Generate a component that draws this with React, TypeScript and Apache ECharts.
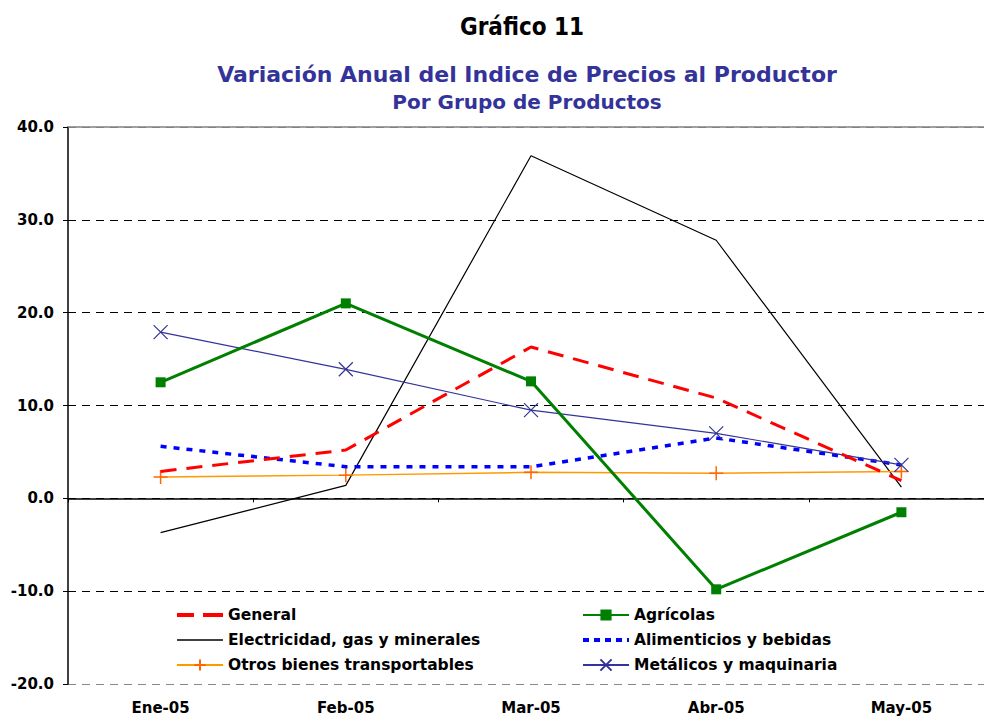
import React, { useEffect, useRef } from "react";
import * as echarts from "echarts";

const categories = ["Ene-05", "Feb-05", "Mar-05", "Abr-05", "May-05"];
const general = [2.9, 5.2, 16.3, 10.8, 1.9];
const agricolas = [12.5, 21.0, 12.6, -9.8, -1.5];
const electricidad = [-3.7, 1.4, 36.9, 27.8, 1.2];
const alimenticios = [5.6, 3.4, 3.4, 6.5, 3.6];
const otros = [2.3, 2.5, 2.8, 2.7, 2.9];
const metalicos = [17.9, 13.9, 9.5, 7.0, 3.6];
const seriesNames = [
  "General",
  "Agrícolas",
  "Electricidad, gas y minerales",
  "Alimenticios y bebidas",
  "Otros bienes transportables",
  "Metálicos y maquinaria",
];
const yMin = -20;
const yMax = 40;
const yStep = 10;

const FONT = "DejaVu Sans";
const ICON_DASH = "path://M0,0h17v4h-17zM26,0h20v4h-20z";
const ICON_SOLID = "path://M0,0h46v1.4h-46z";
const ICON_DOT = "path://M0,0h6v4h-6zM11,0h6v4h-6zM22,0h6v4h-6zM33,0h6v4h-6zM44,0h2v4h-2z";

export default function App() {
  const ref = useRef<HTMLDivElement>(null);
  useEffect(() => {
    document.body.style.margin = "0";
    const chart = echarts.init(ref.current!, null, { renderer: "svg" });
    const legendText = { fontFamily: FONT, fontWeight: "bold", fontSize: 15.5, color: "#000" };
    chart.setOption({
      animation: false,
      backgroundColor: "#fff",
      title: [
        {
          text: "Gráfico 11",
          left: 517,
          textAlign: "center",
          top: 10,
          textStyle: { fontFamily: "DejaVu Sans Condensed, DejaVu Sans", fontWeight: "bold", fontSize: 24, color: "#000" },
        },
        {
          text: "Variación Anual del Indice de Precios al Productor",
          left: 522,
          textAlign: "center",
          top: 58,
          textStyle: { fontFamily: FONT, fontWeight: "bold", fontSize: 22, color: "#333399" },
        },
        {
          text: "Por Grupo de Productos",
          left: 522,
          textAlign: "center",
          top: 87,
          textStyle: { fontFamily: FONT, fontWeight: "bold", fontSize: 20, color: "#333399" },
        },
      ],
      legend: [
        {
          data: [
            { name: seriesNames[0], icon: ICON_DASH, itemStyle: { color: "#FF0000", borderWidth: 0 } },
            { name: seriesNames[2], icon: ICON_SOLID, itemStyle: { color: "#000", borderWidth: 0 } },
            seriesNames[4],
          ],
          orient: "vertical",
          left: 176,
          top: 607,
          padding: 0,
          itemWidth: 46,
          itemHeight: 14,
          itemGap: 9,
          textStyle: legendText,
        },
        {
          data: [
            seriesNames[1],
            { name: seriesNames[3], icon: ICON_DOT, itemStyle: { color: "#0000FF", borderWidth: 0 } },
            seriesNames[5],
          ],
          orient: "vertical",
          left: 582,
          top: 607,
          padding: 0,
          itemWidth: 46,
          itemHeight: 14,
          itemGap: 9,
          textStyle: legendText,
        },
      ],
      grid: { left: 68, top: 127, right: 0, height: 557, containLabel: false },
      xAxis: [
        {
          type: "category",
          data: categories,
          boundaryGap: true,
          axisLine: { onZero: true, lineStyle: { color: "#000", width: 1.5 } },
          axisTick: { show: true, length: 4, lineStyle: { color: "#000" } },
          axisLabel: { show: false },
          splitLine: { show: false },
        },
        {
          type: "category",
          data: categories,
          position: "bottom",
          boundaryGap: true,
          axisLine: { show: false, onZero: false },
          axisTick: { show: false },
          axisLabel: { margin: 16, fontFamily: FONT, fontWeight: "bold", fontSize: 15, color: "#000" },
          splitLine: { show: false },
        },
      ],
      yAxis: {
        type: "value",
        min: yMin,
        max: yMax,
        interval: yStep,
        axisLine: { show: true, lineStyle: { color: "#000", width: 1.5 } },
        axisTick: { show: true, length: 5, lineStyle: { color: "#000" } },
        axisLabel: {
          margin: 14,
          fontFamily: FONT,
          fontWeight: "bold",
          fontSize: 15,
          color: "#000",
          formatter: (v: number) => v.toFixed(1),
        },
        splitLine: {
          show: true,
          lineStyle: {
            color: ["#888", "#000", "#000", "#000", "#000", "#000", "#888"],
            type: [8, 6],
            width: 1,
          },
        },
      },
      series: [
        {
          name: seriesNames[2],
          type: "line",
          data: electricidad,
          symbol: "none",
          lineStyle: { color: "#000", width: 1.2 },
          itemStyle: { color: "#000" },
          z: 2,
          markLine: {
            silent: true,
            symbol: "none",
            label: { show: false },
            lineStyle: { color: "#808080", type: "solid", width: 1.5 },
            data: [{ yAxis: yMax }],
          },
        },
        {
          name: seriesNames[4],
          type: "line",
          data: otros,
          symbol: "path://M0,5L10,5M5,0L5,10",
          symbolSize: 14,
          lineStyle: { color: "#FF9900", width: 1.5 },
          itemStyle: { color: "#FF9900", borderColor: "#FF6600", borderWidth: 1.5 },
          z: 3,
        },
        {
          name: seriesNames[3],
          type: "line",
          data: alimenticios,
          symbol: "none",
          lineStyle: { color: "#0000FF", width: 3.5, type: [6, 7] },
          itemStyle: { color: "#0000FF" },
          z: 4,
        },
        {
          name: seriesNames[5],
          type: "line",
          data: metalicos,
          symbol: "path://M0,0L10,10M10,0L0,10",
          symbolSize: 14,
          lineStyle: { color: "#333399", width: 1.2 },
          itemStyle: { color: "#333399", borderColor: "#333399", borderWidth: 1.2 },
          z: 5,
        },
        {
          name: seriesNames[0],
          type: "line",
          data: general,
          symbol: "none",
          lineStyle: { color: "#FF0000", width: 3, type: [16, 10] },
          itemStyle: { color: "#FF0000" },
          z: 6,
        },
        {
          name: seriesNames[1],
          type: "line",
          data: agricolas,
          symbol: "rect",
          symbolSize: 10,
          lineStyle: { color: "#008000", width: 3 },
          itemStyle: { color: "#008000" },
          z: 7,
        },
      ],
    });
    return () => chart.dispose();
  }, []);
  return (
    <div style={{ width: 984, height: 719, position: "absolute", left: 0, top: 0, overflow: "hidden" }}>
      <div ref={ref} style={{ width: 994, height: 719 }} />
    </div>
  );
}
